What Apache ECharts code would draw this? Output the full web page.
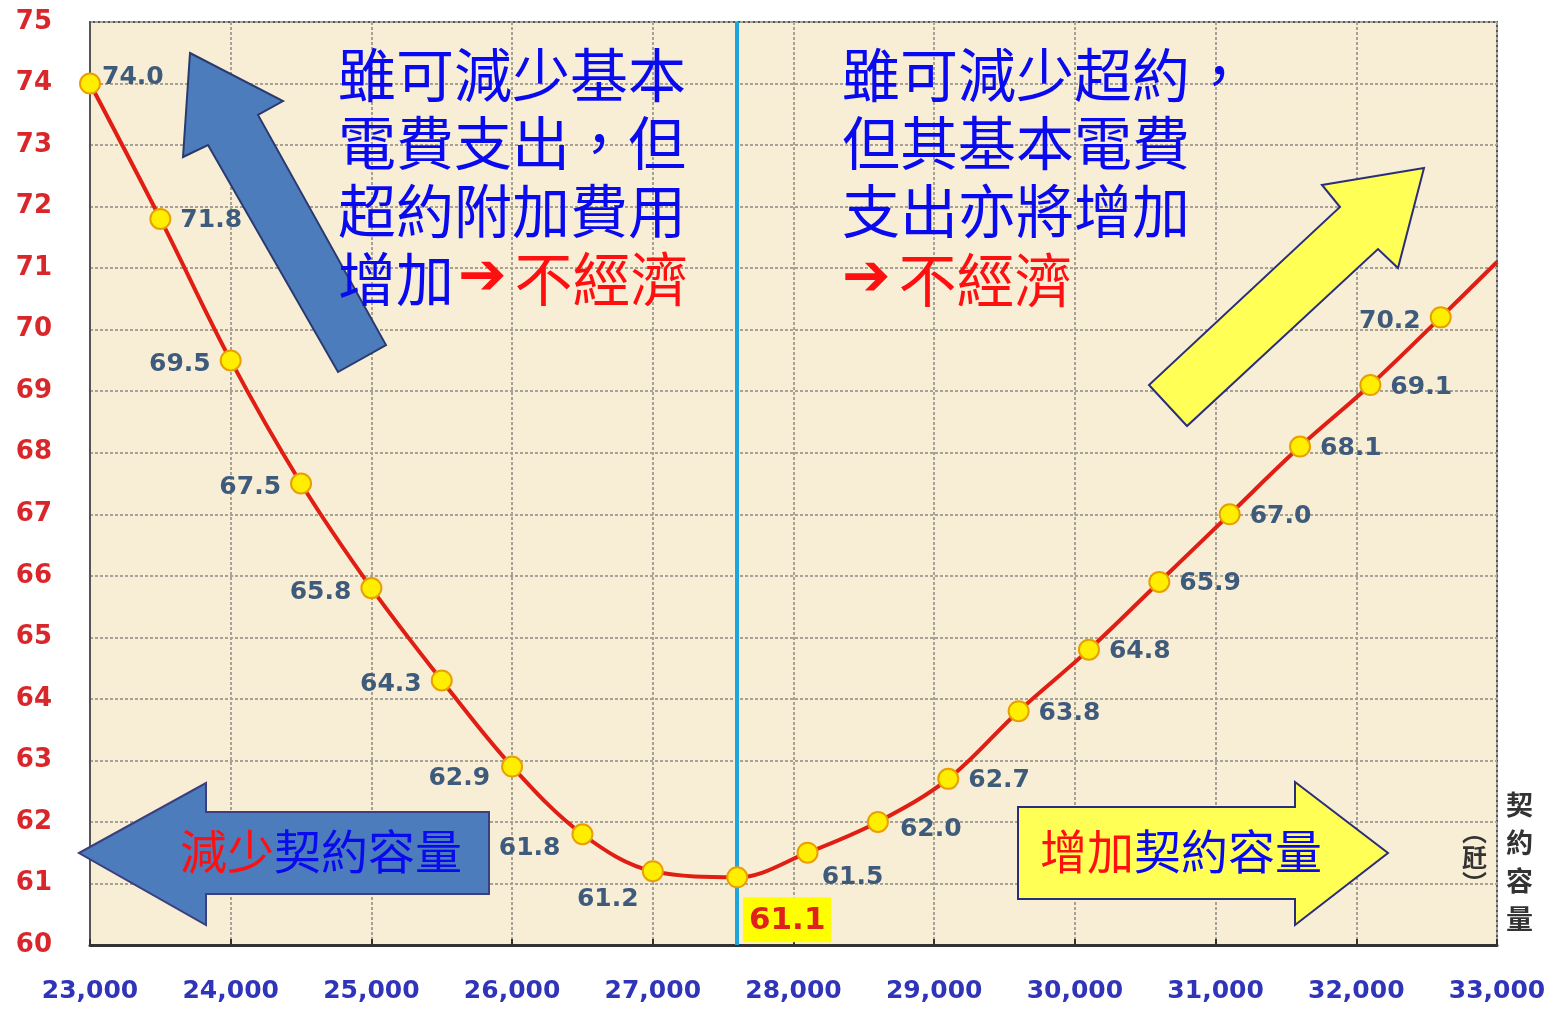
<!DOCTYPE html>
<html>
<head>
<meta charset="utf-8">
<title>契約容量</title>
<script src="https://cdn.jsdelivr.net/npm/echarts@6/dist/echarts.min.js"></script>
<style>
	html, body { margin: 0; padding: 0; background: #ffffff; }
	#main { width: 1545px; height: 1011px; }
</style>
</head>
<body>
<div id="main"></div>
<script>
// 契約容量 (瓩) 與 電費 (萬元)
var capacity = [23000, 23500, 24000, 24500, 25000, 25500, 26000, 26500, 27000, 27600,
		28100, 28600, 29100, 29600, 30100, 30600, 31100, 31600, 32100, 32600, 33000];
var cost = [74.0, 71.8, 69.5, 67.5, 65.8, 64.3, 62.9, 61.8, 61.2, 61.1,
		61.5, 62.0, 62.7, 63.8, 64.8, 65.9, 67.0, 68.1, 69.1, 70.2, 71.1];
// label position for each point ('' = no marker / label)
var labelPos = ['right', 'right', 'left', 'left', 'left', 'left', 'left', 'left', 'bottom', 'best',
		'bottom', 'right', 'right', 'right', 'right', 'right', 'right', 'right', 'right', 'left', ''];
var bestCapacity = 27600;
var xTicks = [23000, 33000, 1000];
var yTicks = [60, 75, 1];

var labelColor = '#3f5b7c';
var numFont = '"DejaVu Sans", Arial, sans-serif';
var cjk = '"Noto Sans CJK TC", "Noto Sans CJK SC", sans-serif';

var seriesData = [];
for (var i = 0; i < capacity.length; i++) {
	var p = labelPos[i];
	var item = { value: [capacity[i], cost[i]] };
	if (p == '') {
		item.symbol = 'none';
		item.label = { show: false };
	} else if (p == 'best') {
		item.label = {
			show: true,
			position: 'bottom',
			offset: [50, 4],
			color: '#e0201a',
			backgroundColor: '#ffff00',
			padding: [8, 6, 6, 6],
			fontSize: 31,
			fontWeight: 'bold'
		};
	} else if (p == 'bottom') {
		item.label = { show: true, position: 'bottom', offset: i == 8 ? [-45, 0] : [45, -4] };
	} else if (p == 'left') {
		item.label = { show: true, position: 'left', offset: [-4, 4] };
	} else {
		item.label = { show: true, position: 'right', offset: [4, 2] };
	}
	seriesData.push(item);
}
// a few labels sit lower than their point
seriesData[6].label.offset = [-6, 12];
seriesData[7].label.offset = [-6, 14];
seriesData[11].label.offset = [6, 8];
seriesData[0].label.offset = [-4, -6];

var chart = echarts.init(document.getElementById('main'));

var option = {
	animation: false,
	grid: {
		left: 90,
		right: 48,
		top: 22,
		bottom: 66,
		outerBoundsMode: 'none',
		show: true,
		backgroundColor: '#f8eed6',
		borderColor: '#555555',
		borderWidth: 2
	},
	xAxis: {
		type: 'value',
		min: xTicks[0],
		max: xTicks[1],
		interval: xTicks[2],
		axisLine: { show: true, lineStyle: { color: '#333333', width: 3 } },
		axisTick: { show: true, inside: true, length: 6, lineStyle: { color: '#333333', width: 2 } },
		axisLabel: {
			margin: 34,
			color: '#2f34b8',
			fontSize: 25,
			fontWeight: 'bold',
			fontFamily: numFont,
			formatter: function(v) {
				return v.toLocaleString('en-US');
			}
		},
		splitLine: { show: true, lineStyle: { color: '#a8a196', width: 2, type: [3, 2] } }
	},
	yAxis: {
		type: 'value',
		min: yTicks[0],
		max: yTicks[1],
		interval: yTicks[2],
		axisLine: { show: true, lineStyle: { color: '#555555', width: 2 } },
		axisTick: { show: false },
		axisLabel: {
			margin: 38,
			color: '#d9262b',
			fontSize: 26,
			fontWeight: 'bold',
			fontFamily: numFont
		},
		splitLine: { show: true, lineStyle: { color: '#a8a196', width: 2, type: [3, 2] } }
	},
	series: [ {
		name: 'cost',
		type: 'line',
		smooth: 0.35,
		data: seriesData,
		symbol: 'circle',
		symbolSize: 20,
		z: 5,
		lineStyle: { color: '#e01e14', width: 4 },
		itemStyle: { color: '#ffee00', borderColor: '#e8a000', borderWidth: 2 },
		label: {
			show: true,
			color: labelColor,
			fontSize: 25,
			fontWeight: 'bold',
			fontFamily: numFont,
			formatter: function(p) {
				return p.value[1].toFixed(1);
			}
		},
		markLine: {
			silent: true,
			symbol: 'none',
			label: { show: false },
			lineStyle: { color: '#1ea6dc', width: 4, type: 'solid' },
			data: [ { xAxis: bestCapacity } ],
			z: 3
		}
	} ],
	graphic: [
		// 左上 藍色箭頭
		{
			type: 'polygon', z: 10,
			shape: { points: [ [190, 53], [283, 101], [258, 115], [386, 345], [338, 372], [208, 145], [183, 157] ] },
			style: { fill: '#4c7cbc', stroke: '#2b3a6e', lineWidth: 2 }
		},
		// 右上 黃色箭頭
		{
			type: 'polygon', z: 10,
			shape: { points: [ [1424, 168], [1398, 268], [1378, 249], [1187, 426], [1149, 385], [1340, 207], [1322, 185] ] },
			style: { fill: '#ffff55', stroke: '#2b2f7a', lineWidth: 2 }
		},
		// 左下 藍色箭頭
		{
			type: 'polygon', z: 10,
			shape: { points: [ [79, 853], [206, 783], [206, 812], [489, 812], [489, 894], [206, 894], [206, 925] ] },
			style: { fill: '#4c7cbc', stroke: '#3b3f7e', lineWidth: 2 }
		},
		// 右下 黃色箭頭
		{
			type: 'polygon', z: 10,
			shape: { points: [ [1018, 807], [1295, 807], [1295, 782], [1388, 853], [1295, 925], [1295, 899], [1018, 899] ] },
			style: { fill: '#ffff55', stroke: '#2b2f7a', lineWidth: 2 }
		},
		{
			type: 'text', z: 12, left: 180, top: 828,
			style: {
				text: '{r|減少}{b|契約容量}',
				rich: {
					r: { fill: '#ff1010', fontSize: 47, fontFamily: cjk },
					b: { fill: '#0a0aee', fontSize: 47, fontFamily: cjk }
				}
			}
		},
		{
			type: 'text', z: 12, left: 1040, top: 828,
			style: {
				text: '{r|增加}{b|契約容量}',
				rich: {
					r: { fill: '#ff1010', fontSize: 47, fontFamily: cjk },
					b: { fill: '#0a0aee', fontSize: 47, fontFamily: cjk }
				}
			}
		},
		// 左上 說明文字
		{
			type: 'text', z: 12, left: 338, top: 46,
			style: {
				text: '{b|雖可減少基本}\n{b|電費支出，但}\n{b|超約附加費用}\n{b|增加}{a|➔}{r|不經濟}',
				rich: {
					b: { fill: '#0a0aee', fontSize: 58, lineHeight: 68, fontFamily: cjk },
					a: { fill: '#ff1010', fontSize: 58, lineHeight: 68, fontFamily: numFont, fontWeight: 'bold', padding: [0, 8, 0, 4] },
					r: { fill: '#ff1010', fontSize: 58, lineHeight: 68, fontFamily: cjk }
				}
			}
		},
		// 右上 說明文字
		{
			type: 'text', z: 12, left: 842, top: 46,
			style: {
				text: '{b|雖可減少超約，}\n{b|但其基本電費}\n{b|支出亦將增加}\n{a|➔}{r|不經濟}',
				rich: {
					b: { fill: '#0a0aee', fontSize: 58, lineHeight: 68, fontFamily: cjk },
					a: { fill: '#ff1010', fontSize: 58, lineHeight: 70, fontFamily: numFont, fontWeight: 'bold', padding: [0, 8, 0, 0] },
					r: { fill: '#ff1010', fontSize: 58, lineHeight: 70, fontFamily: cjk }
				}
			}
		},
		// 單位
		{
			type: 'text', z: 12, left: 1506, top: 786,
			style: {
				text: '契\n約\n容\n量',
				fill: '#333333', fontSize: 27, fontWeight: 'bold', lineHeight: 38, fontFamily: cjk
			}
		},
		{
			type: 'text', z: 12, left: 1462, top: 818,
			style: {
				text: '︵\n瓩\n︶',
				fill: '#333333', fontSize: 25, fontWeight: 'bold', lineHeight: 26, fontFamily: cjk
			}
		}
	]
};

chart.setOption(option);
</script>
</body>
</html>
